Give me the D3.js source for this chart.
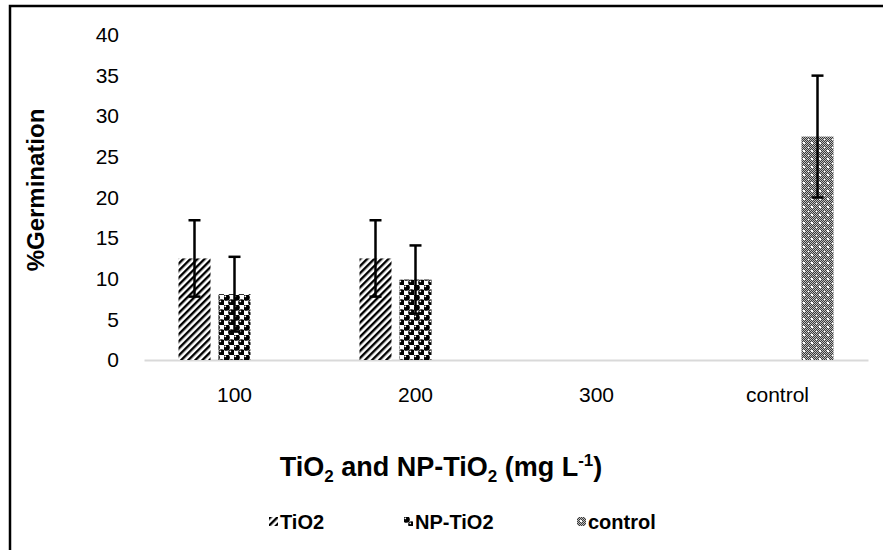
<!DOCTYPE html>
<html>
<head>
<meta charset="utf-8">
<script src="https://cdn.jsdelivr.net/npm/d3@7"></script>
<style>
  body { margin: 0; background: #fff; }
  text { font-family: "Liberation Sans", Arial, sans-serif; fill: #000; }
  .tick text { font-size: 21px; }
  .axisTitle { font-size: 24px; font-weight: bold; }
  .xTitle { font-size: 27px; font-weight: bold; }
  .legendText { font-size: 20px; font-weight: bold; }
</style>
</head>
<body>
<div id="chart"></div>
<script>
// data
var categories = ["100", "200", "300", "control"];
var seriesNames = ["TiO2", "NP-TiO2", "control"];
var tio2Values = [12.5, 12.5, 0, 0];
var npTio2Values = [8.1, 9.9, 0, 0];
var controlValues = [0, 0, 0, 27.5];
var tio2Errors = [4.7, 4.7, 0, 0];
var npTio2Errors = [4.6, 4.2, 0, 0];
var controlErrors = [0, 0, 0, 7.5];
var yTicks = [0, 5, 10, 15, 20, 25, 30, 35, 40];

var svgWidth = 883;
var svgHeight = 550;

var margin = { top: 35, right: 15, bottom: 190, left: 144 };
var width = svgWidth - margin.left - margin.right;
var height = svgHeight - margin.top - margin.bottom;

var svg = d3.select("#chart")
  .append("svg")
  .attr("width", svgWidth)
  .attr("height", svgHeight);

// fill patterns
var defs = svg.append("defs");

var stripes = defs.append("pattern")
  .attr("id", "pat-tio2")
  .attr("patternUnits", "userSpaceOnUse")
  .attr("width", 5)
  .attr("height", 5)
  .attr("patternTransform", "rotate(45)");
stripes.append("rect").attr("width", 5).attr("height", 5).attr("fill", "#fff");
stripes.append("rect").attr("width", 2.4).attr("height", 5).attr("fill", "#000");

var spheres = defs.append("pattern")
  .attr("id", "pat-np")
  .attr("patternUnits", "userSpaceOnUse")
  .attr("width", 10)
  .attr("height", 10);
spheres.append("rect").attr("width", 10).attr("height", 10).attr("fill", "#fff");
[[2.5, 2.5], [7.5, 7.5]].forEach(function(p) {
  spheres.append("circle").attr("cx", p[0]).attr("cy", p[1]).attr("r", 3.3).attr("fill", "#000");
  spheres.append("circle").attr("cx", p[0] - 1.2).attr("cy", p[1] - 1.2).attr("r", 0.9).attr("fill", "#fff");
});

var checker = defs.append("pattern")
  .attr("id", "pat-control")
  .attr("patternUnits", "userSpaceOnUse")
  .attr("width", 8)
  .attr("height", 8);
checker.append("rect").attr("width", 8).attr("height", 8).attr("fill", "#bdbdbd");
d3.range(64).forEach(function(i) {
  var cx = i % 8, cy = Math.floor(i / 8);
  if ((cx + cy) % 2 === 0) {
    checker.append("rect").attr("x", cx).attr("y", cy).attr("width", 1).attr("height", 1).attr("fill", "#3a3a3a");
  }
});
checker.append("rect").attr("x", 3).attr("y", 3).attr("width", 2).attr("height", 2).attr("fill", "#fff");
checker.append("rect").attr("x", 0).attr("y", 0).attr("width", 1).attr("height", 1).attr("fill", "#fff");

var fills = ["url(#pat-tio2)", "url(#pat-np)", "url(#pat-control)"];

// outer frame (only left and top edges show in the picture)
svg.append("rect")
  .attr("x", 10)
  .attr("y", 6)
  .attr("width", 1000)
  .attr("height", 1000)
  .attr("fill", "none")
  .attr("stroke", "#000")
  .attr("stroke-width", 2.5);

var chartGroup = svg.append("g")
  .attr("transform", `translate(${margin.left}, ${margin.top})`);

// scales
var xScale = d3.scaleBand()
  .domain(categories)
  .range([0, 724]);

var xInner = d3.scaleBand()
  .domain(seriesNames)
  .range([34.5, 146.5])
  .paddingInner(0.2);

var yScale = d3.scaleLinear()
  .domain([0, 40])
  .range([height, 0]);

// axes
var bottomAxis = d3.axisBottom(xScale).tickSize(0).tickSizeOuter(0).tickPadding(27);
var leftAxis = d3.axisLeft(yScale).tickValues(yTicks).tickSize(0).tickPadding(25);

var xAxisG = chartGroup.append("g")
  .attr("transform", `translate(0, ${height})`)
  .call(bottomAxis);
xAxisG.select(".domain").attr("stroke", "#d9d9d9").attr("stroke-width", 2);
xAxisG.selectAll("text").attr("font-family", null).attr("font-size", null);

var yAxisG = chartGroup.append("g").call(leftAxis);
yAxisG.select(".domain").remove();
yAxisG.selectAll("text").attr("font-family", null).attr("font-size", null);

// bars
var seriesData = [
  { name: "TiO2", values: tio2Values, errors: tio2Errors },
  { name: "NP-TiO2", values: npTio2Values, errors: npTio2Errors },
  { name: "control", values: controlValues, errors: controlErrors }
];

var barRows = [];
seriesData.forEach(function(s, si) {
  categories.forEach(function(c, ci) {
    barRows.push({ cat: c, series: s.name, si: si, value: s.values[ci], err: s.errors[ci] });
  });
});
var shown = barRows.filter(d => d.value > 0);

chartGroup.selectAll(".bar")
  .data(shown)
  .enter()
  .append("rect")
  .attr("class", "bar")
  .attr("x", d => xScale(d.cat) + xInner(d.series))
  .attr("y", d => yScale(d.value))
  .attr("width", xInner.bandwidth())
  .attr("height", d => yScale(0) - yScale(d.value))
  .attr("fill", d => fills[d.si]);

// error bars
var errG = chartGroup.selectAll(".err")
  .data(shown.filter(d => d.err > 0))
  .enter()
  .append("g")
  .attr("class", "err")
  .attr("stroke", "#000")
  .attr("stroke-width", 2.5);

errG.append("line")
  .attr("x1", d => xScale(d.cat) + xInner(d.series) + xInner.bandwidth() / 2)
  .attr("x2", d => xScale(d.cat) + xInner(d.series) + xInner.bandwidth() / 2)
  .attr("y1", d => yScale(d.value + d.err))
  .attr("y2", d => yScale(d.value - d.err));

[1, -1].forEach(function(sign) {
  errG.append("line")
    .attr("x1", d => xScale(d.cat) + xInner(d.series) + xInner.bandwidth() / 2 - 6)
    .attr("x2", d => xScale(d.cat) + xInner(d.series) + xInner.bandwidth() / 2 + 6)
    .attr("y1", d => yScale(d.value + sign * d.err))
    .attr("y2", d => yScale(d.value + sign * d.err));
});

// axis titles
svg.append("text")
  .attr("class", "axisTitle")
  .attr("transform", "translate(44, 190) rotate(-90)")
  .attr("text-anchor", "middle")
  .text("%Germination");

var xTitle = svg.append("text")
  .attr("class", "xTitle")
  .attr("x", 441)
  .attr("y", 476)
  .attr("text-anchor", "middle");
xTitle.append("tspan").text("TiO");
xTitle.append("tspan").attr("font-size", "17px").attr("dy", 6).text("2");
xTitle.append("tspan").attr("dy", -6).text(" and NP-TiO");
xTitle.append("tspan").attr("font-size", "17px").attr("dy", 6).text("2");
xTitle.append("tspan").attr("dy", -6).text(" (mg L");
xTitle.append("tspan").attr("font-size", "17px").attr("dy", -10).text("-1");
xTitle.append("tspan").attr("dy", 10).text(")");

// legend
var legendX = [269, 404, 577];
var legend = svg.selectAll(".legend")
  .data(seriesNames)
  .enter()
  .append("g")
  .attr("class", "legend")
  .attr("transform", (d, i) => `translate(${legendX[i]}, 517)`);

legend.append("rect")
  .attr("width", 9)
  .attr("height", 9)
  .attr("fill", (d, i) => fills[i]);

legend.append("text")
  .attr("class", "legendText")
  .attr("x", 11)
  .attr("y", 12)
  .text(d => d);
</script>
</body>
</html>
